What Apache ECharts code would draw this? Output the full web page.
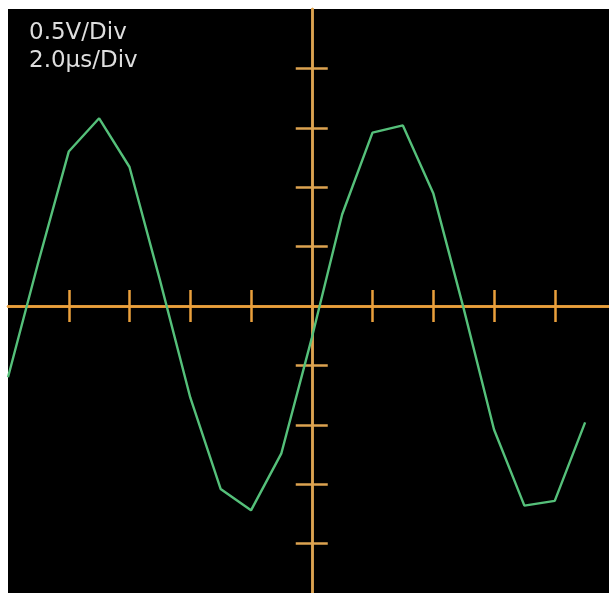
<!DOCTYPE html>
<html>
<head>
<meta charset="utf-8">
<script src="https://cdn.jsdelivr.net/npm/echarts@6/dist/echarts.min.js"></script>
<style>
  html, body { margin: 0; padding: 0; background: #fff; }
  #scope { width: 609px; height: 593px; }
</style>
</head>
<body>
<div id="scope"></div>
<script>
  // time in µs (2.0 µs/div), voltage in V (0.5 V/div)
  var timeUs = [-10, -9, -8, -7, -6, -5, -4, -3, -2, -1, 0, 1, 2, 3, 4, 5, 6, 7, 8, 9];
  var volts = [-0.60, 0.37, 1.30, 1.58, 1.17, 0.22, -0.77, -1.54, -1.72, -1.24,
               -0.27, 0.77, 1.46, 1.52, 0.95, -0.02, -1.04, -1.68, -1.64, -0.98];
  var timeTicks = [-8, -6, -4, -2, 2, 4, 6, 8];
  var voltTicks = [-2, -1.5, -1, -0.5, 0.5, 1, 1.5, 2];
  var scaleLines = ['0.5V/Div', '2.0µs/Div'];

  var orangeH = '#eaa03c';
  var orangeV = '#dca350';

  var myChart = echarts.init(document.getElementById('scope'));

  var points = timeUs.map(function (t, i) { return [t, volts[i]]; });

  // two axes per direction so the ticks stick out on both sides of the line
  function xAx(inside) {
    return {
      type: 'value',
      min: -10,
      max: 10,
      position: inside ? 'top' : 'bottom',
      axisLine: { show: true, onZero: true, lineStyle: { color: orangeH, width: 2.5 } },
      axisTick: { show: true, inside: false, length: 16, customValues: timeTicks,
                  lineStyle: { color: orangeH, width: 2.5 } },
      axisLabel: { show: false },
      splitLine: { show: false }
    };
  }
  function yAx(inside) {
    return {
      type: 'value',
      min: -2.5,
      max: 2.5,
      position: inside ? 'right' : 'left',
      axisLine: { show: true, onZero: true, lineStyle: { color: orangeV, width: 2.5 } },
      axisTick: { show: true, inside: false, length: 16, customValues: voltTicks,
                  lineStyle: { color: orangeV, width: 2.5 } },
      axisLabel: { show: false },
      splitLine: { show: false }
    };
  }

  myChart.setOption({
    backgroundColor: '#fff',
    animation: false,
    grid: {
      show: true,
      left: 8,
      top: 9,
      width: 607.5,
      height: 594,
      outerBoundsMode: 'none',
      containLabel: false,
      backgroundColor: '#000',
      borderWidth: 0
    },
    xAxis: [xAx(false), xAx(true)],
    yAxis: [yAx(false), yAx(true)],
    graphic: [
      {
        type: 'text', left: 29, top: 22,
        style: { text: scaleLines[0], fill: '#dedede', font: '23px "DejaVu Sans"' }
      },
      {
        type: 'text', left: 29, top: 50,
        style: { text: scaleLines[1], fill: '#dedede', font: '23px "DejaVu Sans"' }
      }
    ],
    series: [
      {
        type: 'line',
        data: points,
        showSymbol: false,
        lineStyle: { color: '#55c07a', width: 2.4 },
        z: 5
      }
    ]
  });
</script>
</body>
</html>
